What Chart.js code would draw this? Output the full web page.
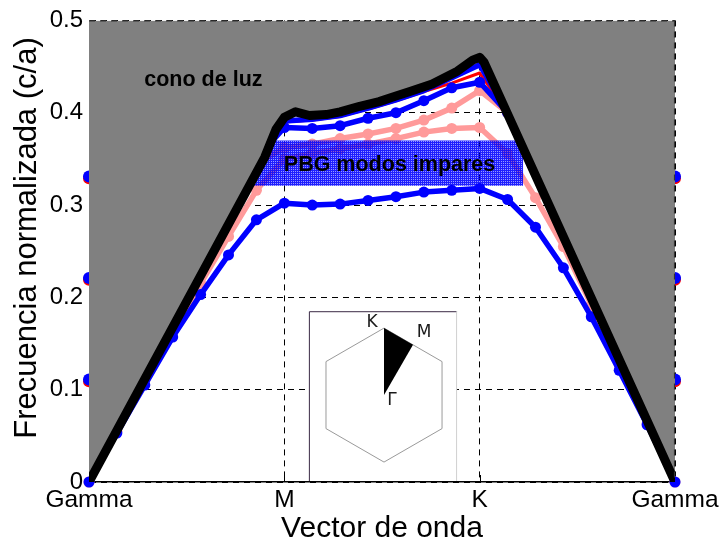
<!DOCTYPE html>
<html><head><meta charset="utf-8">
<script src="https://cdn.jsdelivr.net/npm/chart.js@4/dist/chart.umd.min.js"></script>
<style>html,body{margin:0;padding:0;background:#fff;}</style>
</head><body>
<canvas id="c" width="724" height="545"></canvas>
<script>
// ---------- data ----------
const kIndex = [0,1,2,3,4,5,6,7,8,9,10,11,12,13,14,15,16,17,18,19,20,21];
const kTickPos = [0,7,14,21];
const kTickLabels = ['Gamma','M','K','Gamma'];
const yTickVals = [0,0.1,0.2,0.3,0.4,0.5];
const yTickLabels = ['0','0.1','0.2','0.3','0.4','0.5'];
const xTitle = 'Vector de onda';
const yTitle = 'Frecuencia normalizada (c/a)';

// light line (cone boundary)
const lightLineK = [0, 6.3, 6.7, 7.0, 7.4, 7.9, 8.5, 9.0, 9.7, 10.4, 11.0, 11.5, 12.3, 13.2, 13.75, 14.0, 14.15, 21];
const lightLineF = [0, 0.352, 0.382, 0.395, 0.401, 0.397, 0.398, 0.401, 0.407, 0.412, 0.418, 0.423, 0.431, 0.445, 0.457, 0.460, 0.455, 0];

// odd modes (blue)
const blueBand1 = [0, 0.053, 0.105, 0.157, 0.203, 0.246, 0.284, 0.302, 0.300, 0.301, 0.305, 0.309, 0.314, 0.316, 0.318, 0.306, 0.276, 0.232, 0.179, 0.121, 0.062, 0];
const blueBand2 = [null, null, null, null, null, null, 0.350, 0.384, 0.383, 0.386, 0.394, 0.400, 0.413, 0.427, 0.433, 0.400, null, null, null, null, null, null];
const blueBand3 = [null, null, null, null, null, null, 0.345, 0.391, 0.393, 0.397, 0.405, 0.414, 0.424, 0.438, 0.452, 0.400, null, null, null, null, null, null];
// even modes (red / pink)
const redBand1  = [null, null, null, null, null, null, 0.345, 0.390, 0.392, 0.396, 0.404, 0.413, 0.423, 0.432, 0.443, 0.400, null, null, null, null, null, null];
const pinkBand1 = [0, 0.055, 0.110, 0.163, 0.215, 0.266, 0.316, 0.350, 0.356, 0.361, 0.366, 0.372, 0.379, 0.383, 0.384, 0.356, 0.308, 0.255, 0.192, 0.127, 0.063, 0];
const pinkBand2 = [null, null, null, null, null, null, 0.345, 0.362, 0.366, 0.372, 0.377, 0.383, 0.392, 0.405, 0.424, 0.400, null, null, null, null, null, null];

// modes at Gamma (inside the light cone)
const gammaK = [0, 21];
const gammaModesBlue = [0.111, 0.221, 0.331];
const gammaModesRed  = [0.109, 0.219, 0.329];

// photonic band gap (odd modes)
const pbgK = [5.5, 15.56];
const pbgTop = 0.370;
const pbgBottom = 0.321;

// ---------- helpers ----------
const pts = (xs, ys) => xs.map((x, i) => ({x, y: ys[i]}));
const gammaPts = vals => { const a = []; vals.forEach(v => gammaK.forEach(k => a.push({x:k, y:v}))); return a; };

// hatch pattern for PBG
const pc = document.createElement('canvas'); pc.width = 2; pc.height = 2;
const pctx = pc.getContext('2d');
pctx.fillStyle = 'rgba(0,0,255,0.88)';
pctx.fillRect(0,0,2,2);
pctx.clearRect(1,1,1,1);
pctx.fillStyle = 'rgba(0,0,255,0.4)';
pctx.fillRect(1,1,1,1);
const hatch = pctx.createPattern(pc, 'repeat');

const BLUE = '#0000ff', PINK = '#ff9a9a', RED = '#ff0000';
const band = (label, data, color, order, extra) => Object.assign({
  label, data: pts(kIndex, data), borderColor: color, backgroundColor: color,
  borderWidth: 5.5, pointRadius: 5.5, pointHoverRadius: 5.5, pointBorderWidth: 0,
  fill: false, order, clip: false, spanGaps: false,
  borderJoinStyle: 'round', borderCapStyle: 'round'
}, extra || {});

const FONT = "'Liberation Sans', Arial, sans-serif";

const decor = {
  id: 'decor',
  beforeDatasetsDraw(chart) {
    // Brillouin-zone inset
    const {ctx, chartArea: ca} = chart;
    const x = chart.scales.x, y = chart.scales.y;
    const L = x.getPixelForValue(7.88), R = x.getPixelForValue(13.19);
    const T = y.getPixelForValue(0.185), B = ca.bottom - 1;
    ctx.save();
    ctx.fillStyle = '#fff';
    ctx.fillRect(L, T, R - L, B - T);
    ctx.lineWidth = 1;
    ctx.strokeStyle = '#3a2a45';
    ctx.beginPath(); ctx.moveTo(L + 0.5, B); ctx.lineTo(L + 0.5, T + 0.5); ctx.lineTo(R, T + 0.5); ctx.stroke();
    ctx.strokeStyle = '#d0d0d0';
    ctx.beginPath(); ctx.moveTo(R - 0.5, T); ctx.lineTo(R - 0.5, B); ctx.stroke();
    const cx = L + (R - L) * 0.507, cy = T + (B - T) * 0.494, r = 67;
    ctx.strokeStyle = '#9a9a9a';
    ctx.beginPath();
    for (let i = 0; i < 6; i++) {
      const a = -Math.PI / 2 + i * Math.PI / 3;
      const px = cx + r * Math.cos(a), py = cy + r * Math.sin(a);
      if (i === 0) ctx.moveTo(px, py); else ctx.lineTo(px, py);
    }
    ctx.closePath(); ctx.stroke();
    const Kx = cx, Ky = cy - r;
    const a1 = -Math.PI / 6;
    const V2x = cx + r * Math.cos(a1), V2y = cy + r * Math.sin(a1);
    const Mx = (Kx + V2x) / 2, My = (Ky + V2y) / 2;
    ctx.fillStyle = '#000';
    ctx.beginPath(); ctx.moveTo(cx, cy); ctx.lineTo(Kx, Ky); ctx.lineTo(Mx, My); ctx.closePath(); ctx.fill();
    ctx.fillStyle = '#1a1a1a';
    ctx.font = "17px 'DejaVu Sans', sans-serif";
    ctx.textAlign = 'center'; ctx.textBaseline = 'middle';
    ctx.fillText('K', Kx - 12, Ky - 6);
    ctx.fillText('M', Mx + 11, My - 12);
    ctx.fillText('\u0393', cx + 8, cy + 5);
    ctx.restore();
  },
  afterDatasetsDraw(chart) {
    const {ctx, chartArea: ca} = chart;
    const x = chart.scales.x, y = chart.scales.y;
    ctx.save();
    // dashed top / right frame
    ctx.strokeStyle = '#333'; ctx.lineWidth = 1.2; ctx.setLineDash([6, 5]);
    ctx.beginPath(); ctx.moveTo(ca.left, ca.top + 0.5); ctx.lineTo(ca.right, ca.top + 0.5); ctx.stroke();
    ctx.beginPath(); ctx.moveTo(ca.right - 0.5, ca.top); ctx.lineTo(ca.right - 0.5, ca.bottom); ctx.stroke();
    ctx.setLineDash([]);
    // inward ticks on the bottom axis
    ctx.strokeStyle = '#000'; ctx.lineWidth = 1;
    [7, 14].forEach(v => { const px = Math.round(x.getPixelForValue(v)) + 0.5; ctx.beginPath(); ctx.moveTo(px, ca.bottom); ctx.lineTo(px, ca.bottom - 7); ctx.stroke(); });
    // annotations
    ctx.fillStyle = '#000';
    ctx.font = "bold 21.5px " + FONT;
    ctx.textAlign = 'center'; ctx.textBaseline = 'middle';
    ctx.fillText('cono de luz', x.getPixelForValue(4.1), y.getPixelForValue(0.435));
    ctx.fillText('PBG modos impares', x.getPixelForValue(10.77), y.getPixelForValue(0.343));
    // axis titles
    ctx.font = "30px " + FONT;
    ctx.fillText(xTitle, (ca.left + ca.right) / 2, 529);
    ctx.translate(27, 238);
    ctx.rotate(-Math.PI / 2);
    ctx.font = "31px " + FONT;
    ctx.fillText(yTitle, 0, 0);
    ctx.restore();
  }
};

new Chart(document.getElementById('c'), {
  type: 'line',
  data: {
    datasets: [
      band('pink1', pinkBand1, PINK, 7),
      band('pink2', pinkBand2, PINK, 7),
      band('red1', redBand1, RED, 6, {borderWidth: 3, pointRadius: 0}),
      band('blue3', blueBand3, BLUE, 5, {pointRadius: 0}),
      band('blue2', blueBand2, BLUE, 5),
      band('blue1', blueBand1, BLUE, 5),
      { label: 'gammaRed', data: gammaPts(gammaModesRed), showLine: false, pointRadius: 6, pointBorderWidth: 0,
        backgroundColor: RED, borderColor: RED, order: 4, clip: false },
      { label: 'gammaBlue', data: gammaPts(gammaModesBlue), showLine: false, pointRadius: 6, pointBorderWidth: 0,
        backgroundColor: BLUE, borderColor: BLUE, order: 3, clip: false },
      { label: 'PBG', data: pts(pbgK, [pbgTop, pbgTop]), borderWidth: 0, pointRadius: 0,
        backgroundColor: hatch, borderColor: 'rgba(0,0,0,0)', fill: {value: pbgBottom}, order: 2 },
      { label: 'light line', data: pts(lightLineK, lightLineF), borderColor: '#000', borderWidth: 9,
        pointRadius: 0, backgroundColor: '#808080', fill: 'end', order: 1,
        borderJoinStyle: 'round', borderCapStyle: 'round' }
    ]
  },
  options: {
    responsive: false, animation: false, devicePixelRatio: 1,
    events: [],
    layout: { padding: { top: 20, right: 49, left: 0, bottom: 0 } },
    plugins: { legend: { display: false }, tooltip: { enabled: false } },
    scales: {
      x: {
        type: 'linear', min: 0, max: 21,
        afterBuildTicks: s => { s.ticks = kTickPos.map(v => ({value: v})); },
        afterFit: s => { s.height = 63; },
        ticks: { callback: (v, i) => kTickLabels[i], color: '#000', font: {family: FONT, size: 24.5}, padding: 4, maxRotation: 0, autoSkip: false },
        grid: { color: '#000', lineWidth: 1, drawTicks: false },
        border: { display: true, color: '#000', width: 1.5, dash: [6, 5] },
        title: { display: false }
      },
      y: {
        type: 'linear', min: 0, max: 0.5,
        afterBuildTicks: s => { s.ticks = yTickVals.map(v => ({value: v})); },
        afterFit: s => { s.width = 89; },
        ticks: { callback: (v, i) => yTickLabels[i], color: '#000', font: {family: FONT, size: 24}, padding: 6 },
        grid: { color: '#000', lineWidth: 1, drawTicks: false },
        border: { display: true, color: '#888', width: 1, dash: [6, 5] },
        title: { display: false }
      }
    }
  },
  plugins: [decor]
});
</script>
</body></html>
